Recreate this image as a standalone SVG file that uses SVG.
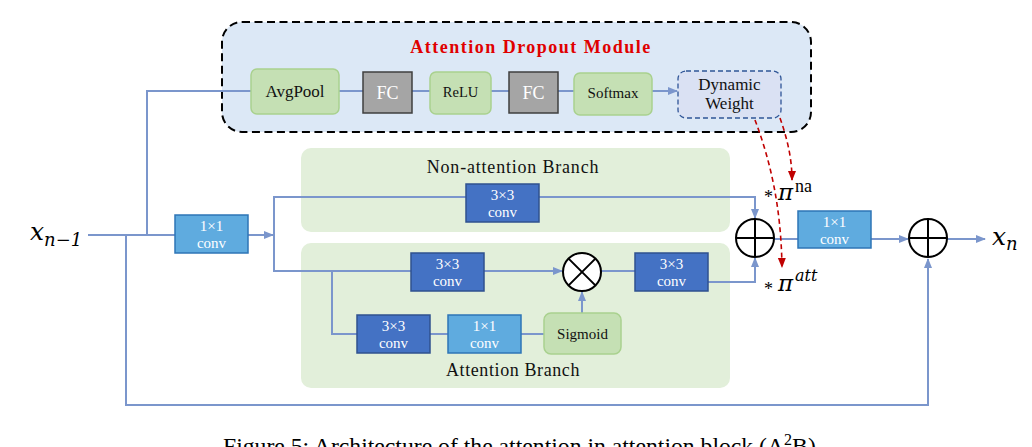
<svg xmlns="http://www.w3.org/2000/svg" width="1032" height="447" viewBox="0 0 1032 447">
<style>
.ln{fill:none;stroke:#7b96cc;stroke-width:2}
.arr{marker-end:url(#ab)}
.red{fill:none;stroke:#c00000;stroke-width:1.6;stroke-dasharray:5,3.5;marker-end:url(#ar)}
.conv{fill:#4472c4;stroke:#2f528f;stroke-width:1.5}
.conv1{fill:#5fabdf;stroke:#2e75b6;stroke-width:1.5}
.fc{fill:#a5a5a5;stroke:#3f3f3f;stroke-width:1.5}
.grn{fill:#c5e0b4;stroke:#a9d18e;stroke-width:1.5}
.wt{font-family:"Liberation Serif",serif;fill:#ffffff;text-anchor:middle}
.bt{font-family:"Liberation Serif",serif;fill:#111111;text-anchor:middle}
.circ{fill:#ffffff;stroke:#000000;stroke-width:2}
.cx{stroke:#000000;stroke-width:2}
.math{font-family:"DejaVu Serif",serif;font-style:italic;fill:#000000}
</style>
<defs>
<marker id="ab" markerWidth="10" markerHeight="10" refX="9" refY="5" orient="auto" markerUnits="userSpaceOnUse"><path d="M0,1 L10,5 L0,9 Z" fill="#7b96cc"/></marker>
<marker id="ar" markerWidth="10" markerHeight="10" refX="9" refY="5" orient="auto" markerUnits="userSpaceOnUse"><path d="M0,1 L10,5 L0,9 Z" fill="#c00000"/></marker>
</defs>
<rect width="1032" height="447" fill="#ffffff"/>

<g id="module">
<rect x="222" y="22" width="589" height="110" rx="20" fill="#dce8f6" stroke="#000000" stroke-width="2" stroke-dasharray="8,4.5"/>
<text x="531" y="53" font-family="Liberation Serif,serif" font-weight="bold" font-size="18" fill="#e00000" text-anchor="middle" letter-spacing="1.5">Attention Dropout Module</text>
</g>
<g id="nonatt-branch">
<rect x="301" y="148" width="429" height="84" rx="10" fill="#e2efda"/>
<text x="513" y="173" class="bt" font-size="18" fill="#333" letter-spacing="0.8">Non-attention Branch</text>
</g>
<g id="att-branch">
<rect x="301" y="243" width="429" height="145" rx="10" fill="#e2efda"/>
<text x="513" y="376" class="bt" font-size="18" letter-spacing="0.6">Attention Branch</text>
</g>

<g id="connectors">
<path class="ln" d="M88,235 H175"/>
<path class="ln" d="M147,235 V91 H251"/>
<path class="ln" d="M126,235 V405 H928 V259" marker-end="url(#ab)"/>
<path class="ln arr" d="M248,235 H273"/>
<path class="ln" d="M274,271 V197 H466"/>
<path class="ln arr" d="M539,197 H755 V218"/>
<path class="ln" d="M274,235 V271 H411"/>
<path class="ln arr" d="M484,271 H562"/>
<path class="ln" d="M601,271 H635"/>
<path class="ln arr" d="M708,282 H755 V258"/>
<path class="ln" d="M332,271 V334 H357"/>
<path class="ln" d="M430,334 H448"/>
<path class="ln" d="M521,334 H544"/>
<path class="ln arr" d="M582,313 V292"/>
<path class="ln" d="M774,239 H798"/>
<path class="ln arr" d="M871,239 H908"/>
<path class="ln arr" d="M947,239 H985"/>
<path class="ln" d="M339,91 H363"/>
<path class="ln" d="M412,91 H430"/>
<path class="ln" d="M491,91 H509"/>
<path class="ln" d="M558,91 H574"/>
<path class="ln arr" d="M652,91 H677"/>
<path class="red" d="M755,120 C770,160 781,205 782,267"/>
<path class="red" d="M780,118 C787,138 792,158 792,180"/>
</g>

<g id="avgpool"><rect class="grn" x="251" y="69" width="88" height="45" rx="6"/><text class="bt" x="295" y="97" font-size="17">AvgPool</text></g>
<g id="fc1"><rect class="fc" x="363" y="72" width="49" height="41"/><text class="wt" x="387.5" y="99" font-size="18">FC</text></g>
<g id="relu"><rect class="grn" x="430" y="72" width="61" height="42" rx="6"/><text class="bt" x="460.5" y="97" font-size="14.5">ReLU</text></g>
<g id="fc2"><rect class="fc" x="509" y="72" width="49" height="41"/><text class="wt" x="533.5" y="99" font-size="18">FC</text></g>
<g id="softmax"><rect class="grn" x="574" y="73" width="78" height="42" rx="6"/><text class="bt" x="613" y="98" font-size="15">Softmax</text></g>
<g id="dynamic-weight"><rect x="678" y="71" width="103" height="47" rx="8" fill="#dae1f3" stroke="#2f5597" stroke-width="1.3" stroke-dasharray="5,3"/><text class="bt" x="729.5" y="90" font-size="17">Dynamic</text><text class="bt" x="729.5" y="109" font-size="17">Weight</text></g>

<g id="input"><text class="math" x="30" y="240" font-size="25">x<tspan font-size="18" dy="6">n−1</tspan></text></g>
<g id="conv1x1-in"><rect class="conv1" x="175" y="215" width="73" height="38"/><text class="wt" x="211.5" y="231" font-size="15">1×1</text><text class="wt" x="211.5" y="248" font-size="15">conv</text></g>
<g id="conv3x3-na"><rect class="conv" x="466" y="184" width="73" height="38"/><text class="wt" x="502.5" y="200" font-size="15">3×3</text><text class="wt" x="502.5" y="217" font-size="15">conv</text></g>
<g id="conv3x3-a1"><rect class="conv" x="411" y="253" width="73" height="38"/><text class="wt" x="447.5" y="269" font-size="15">3×3</text><text class="wt" x="447.5" y="286" font-size="15">conv</text></g>
<g id="conv3x3-a2"><rect class="conv" x="635" y="253" width="73" height="38"/><text class="wt" x="671.5" y="269" font-size="15">3×3</text><text class="wt" x="671.5" y="286" font-size="15">conv</text></g>
<g id="conv3x3-a3"><rect class="conv" x="357" y="315" width="73" height="38"/><text class="wt" x="393.5" y="331" font-size="15">3×3</text><text class="wt" x="393.5" y="348" font-size="15">conv</text></g>
<g id="conv1x1-a"><rect class="conv1" x="448" y="315" width="73" height="38"/><text class="wt" x="484.5" y="331" font-size="15">1×1</text><text class="wt" x="484.5" y="348" font-size="15">conv</text></g>
<g id="sigmoid"><rect class="grn" x="544" y="313" width="77" height="41" rx="7"/><text class="bt" x="582.5" y="339" font-size="15">Sigmoid</text></g>
<g id="mult"><circle class="circ" cx="582" cy="272" r="19"/><path class="cx" d="M568.6,258.6 L595.4,285.4 M595.4,258.6 L568.6,285.4"/></g>
<g id="add1"><circle class="circ" cx="755" cy="238" r="19"/><path class="cx" d="M736,238 H774 M755,219 V257"/></g>
<g id="conv1x1-out"><rect class="conv1" x="798" y="211" width="73" height="37"/><text class="wt" x="834.5" y="227" font-size="15">1×1</text><text class="wt" x="834.5" y="244" font-size="15">conv</text></g>
<g id="add2"><circle class="circ" cx="928" cy="238" r="19"/><path class="cx" d="M909,238 H947 M928,219 V257"/></g>
<g id="output"><text class="math" x="992" y="245" font-size="25">x<tspan font-size="18" dy="5">n</tspan></text></g>
<g id="pi-na"><text x="764" y="203" font-family="Liberation Serif,serif" font-size="18">*</text><text class="math" x="778" y="200" font-size="23">π</text><text x="795" y="192" font-family="Liberation Serif,serif" font-size="18">na</text></g>
<g id="pi-att"><text x="764" y="295" font-family="Liberation Serif,serif" font-size="18">*</text><text class="math" x="778" y="291" font-size="23">π</text><text class="math" x="795" y="281" font-size="16">att</text></g>

<text x="223" y="454" font-family="Liberation Serif,serif" font-size="23.7" fill="#000">Figure 5: Architecture of the attention in attention block (A<tspan font-size="16" dy="-9">2</tspan><tspan dy="9">B).</tspan></text>
</svg>
